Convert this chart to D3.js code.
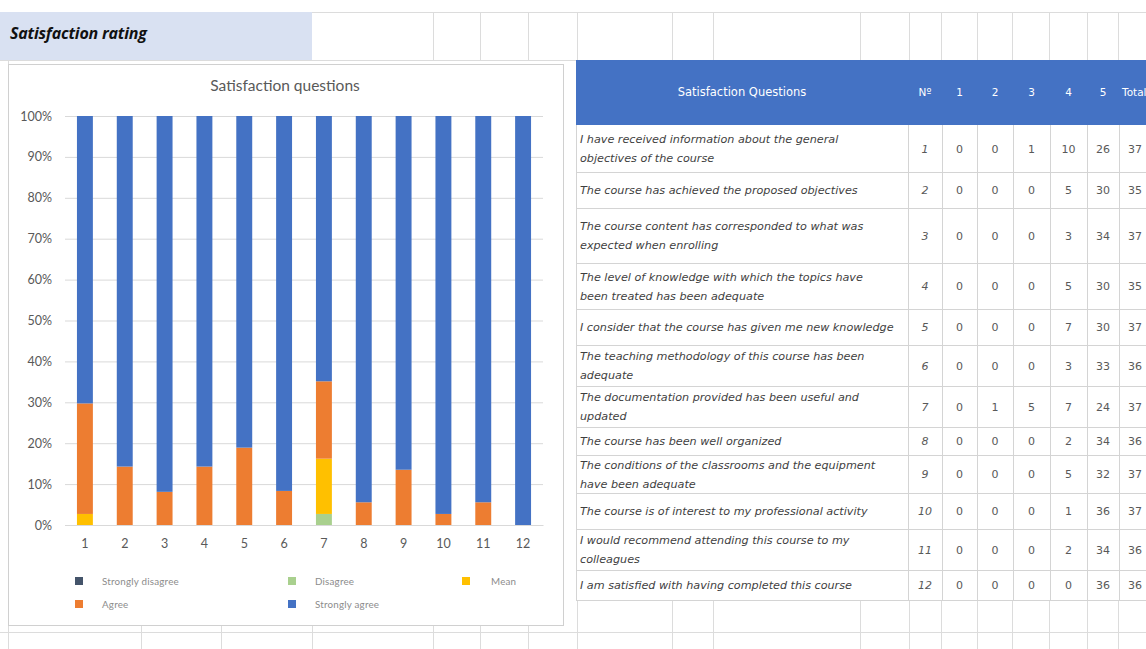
<!DOCTYPE html>
<html>
<head>
<meta charset="utf-8">
<script src="https://cdn.jsdelivr.net/npm/d3@7"></script>
<style>
  html, body { margin: 0; padding: 0; background: #fff; }
  svg { display: block; }
</style>
</head>
<body>
<svg id="chart" width="1146" height="649"></svg>
<script>
// ---------------- DATA ----------------
const questionNumbers = [1, 2, 3, 4, 5, 6, 7, 8, 9, 10, 11, 12];
const questionTexts = [
  ["I have received information about the general", "objectives of the course"],
  ["The course has achieved the proposed objectives"],
  ["The course content has corresponded to what was", "expected when enrolling"],
  ["The level of knowledge with which the topics have", "been treated has been adequate"],
  ["I consider that the course has given me new knowledge"],
  ["The teaching methodology of this course has been", "adequate"],
  ["The documentation provided has been useful and", "updated"],
  ["The course has been well organized"],
  ["The conditions of the classrooms and the equipment", "have been adequate"],
  ["The course is of interest to my professional activity"],
  ["I would recommend attending this course to my", "colleagues"],
  ["I am satisfied with having completed this course"]
];
const stronglyDisagree = [0, 0, 0, 0, 0, 0, 0, 0, 0, 0, 0, 0];
const disagree         = [0, 0, 0, 0, 0, 0, 1, 0, 0, 0, 0, 0];
const mean             = [1, 0, 0, 0, 0, 0, 5, 0, 0, 0, 0, 0];
const agree            = [10, 5, 3, 5, 7, 3, 7, 2, 5, 1, 2, 0];
const stronglyAgree    = [26, 30, 34, 30, 30, 33, 24, 34, 32, 36, 34, 36];
const totals           = [37, 35, 37, 35, 37, 36, 37, 36, 37, 37, 36, 36];
const seriesNames = ["Strongly disagree", "Disagree", "Mean", "Agree", "Strongly agree"];
const yTicks = [0, 0.1, 0.2, 0.3, 0.4, 0.5, 0.6, 0.7, 0.8, 0.9, 1.0];
const tableHeaders = ["Nº", "1", "2", "3", "4", "5", "Total"];
const sheetTitle = "Satisfaction rating";
const chartTitle = "Satisfaction questions";
const tableTitle = "Satisfaction Questions";

// ---------------- STYLE / LAYOUT ----------------
const colors = {
  "Strongly disagree": "#44546a",
  "Disagree": "#a9d08e",
  "Mean": "#ffc000",
  "Agree": "#ed7d31",
  "Strongly agree": "#4472c4"
};
const gridColor = "#d9d9d9";
const textGray = "#595959";
const chartFont = "Lato, 'Open Sans', sans-serif";
const tableFont = "'DejaVu Sans', Lato, sans-serif";

const svg = d3.select("#chart");

// ---- spreadsheet background grid ----
const sheet = svg.append("g").attr("stroke", "#dcdcdc").attr("stroke-width", 1);
const colLinesLeft = [141, 221, 312, 433, 480, 528];
const colLinesRight = [577, 672, 713, 860, 909, 941, 977, 1012, 1049, 1087, 1118];
svg.append("rect").attr("x", 0).attr("y", 12).attr("width", 312).attr("height", 48).attr("fill", "#d9e1f2");
[12.5, 60.5].forEach(y => sheet.append("line").attr("x1", 0).attr("x2", 1146).attr("y1", y).attr("y2", y));
colLinesLeft.concat(colLinesRight).forEach(x => {
  if (x > 312) sheet.append("line").attr("x1", x + 0.5).attr("x2", x + 0.5).attr("y1", 12).attr("y2", 60);
  sheet.append("line").attr("x1", x + 0.5).attr("x2", x + 0.5).attr("y1", 600).attr("y2", 649);
});
sheet.append("line").attr("x1", 8.5).attr("x2", 8.5).attr("y1", 60).attr("y2", 649);
sheet.append("line").attr("x1", 0).attr("x2", 1146).attr("y1", 632.5).attr("y2", 632.5);
sheet.append("line").attr("x1", 576).attr("x2", 1146).attr("y1", 600.5).attr("y2", 600.5);

svg.append("text").attr("x", 10).attr("y", 39)
  .attr("font-family", "'Open Sans', Lato, sans-serif").attr("font-weight", 700).attr("font-style", "italic")
  .attr("font-size", 16).attr("letter-spacing", -0.2).attr("fill", "#111").text(sheetTitle);

// ---------------- CHART ----------------
svg.append("rect").attr("x", 8.5).attr("y", 64.5).attr("width", 555).attr("height", 561)
  .attr("fill", "#fff").attr("stroke", "#d0d0d0");

svg.append("text").attr("x", 285).attr("y", 91).attr("text-anchor", "middle")
  .attr("font-family", chartFont).attr("font-size", 15.5).attr("fill", textGray).text(chartTitle);

const plotLeft = 65, plotRight = 543, plotTop = 116, plotBottom = 525;
const x = d3.scaleBand().domain(questionNumbers).range([plotLeft, plotRight])
  .paddingInner(0.6).paddingOuter(0.3);
const y = d3.scaleLinear().domain([0, 1]).range([plotBottom, plotTop]);

const rows = questionNumbers.map((q, i) => ({
  q,
  "Strongly disagree": stronglyDisagree[i],
  "Disagree": disagree[i],
  "Mean": mean[i],
  "Agree": agree[i],
  "Strongly agree": stronglyAgree[i]
}));
const stacked = d3.stack().keys(seriesNames).offset(d3.stackOffsetExpand)(rows);

const yAxis = d3.axisLeft(y).tickValues(yTicks).tickFormat(d3.format(".0%"))
  .tickSize(-(plotRight - plotLeft)).tickPadding(13);
const gy = svg.append("g").attr("transform", `translate(${plotLeft},0)`).call(yAxis);
gy.select(".domain").remove();
gy.selectAll(".tick line").attr("stroke", gridColor);
gy.selectAll(".tick text").attr("font-family", chartFont).attr("font-size", 12.5).attr("fill", textGray);

svg.append("g").selectAll("g").data(stacked).join("g")
  .attr("fill", d => colors[d.key])
  .selectAll("rect").data(d => d).join("rect")
  .attr("x", d => x(d.data.q))
  .attr("width", x.bandwidth())
  .attr("y", d => y(d[1]))
  .attr("height", d => Math.max(0, y(d[0]) - y(d[1])));

const xAxis = d3.axisBottom(x).tickSize(0).tickPadding(14);
const gx = svg.append("g").attr("transform", `translate(0,${plotBottom})`).call(xAxis);
gx.select(".domain").attr("stroke", gridColor);
gx.selectAll(".tick text").attr("font-family", chartFont).attr("font-size", 12.5).attr("fill", textGray);

const legendPos = [[75, 581], [288, 581], [462, 581], [75, 604], [288, 604]];
const legend = svg.append("g").selectAll("g").data(seriesNames).join("g")
  .attr("transform", (d, i) => `translate(${legendPos[i][0]},${legendPos[i][1]})`);
legend.append("rect").attr("x", 0).attr("y", -4).attr("width", 8).attr("height", 8)
  .attr("fill", d => colors[d]);
legend.append("text").attr("x", d => d === "Mean" ? 29 : 27).attr("y", 3.5)
  .attr("font-family", chartFont).attr("font-size", 9.8).attr("letter-spacing", 0.2)
  .attr("fill", "#8c8c8c").text(d => d);

// ---------------- TABLE ----------------
const tLeft = 576, tRight = 1146;
const colEdges = [908, 942, 977, 1013, 1050, 1087, 1119, 1151];
const rowEdges = [125, 172, 208, 263, 309, 345, 386, 427, 455, 493, 529, 570, 600];

svg.append("rect").attr("x", tLeft).attr("y", 60).attr("width", tRight - tLeft).attr("height", 65)
  .attr("fill", "#4472c4");
svg.append("text").attr("x", (tLeft + colEdges[0]) / 2).attr("y", 96).attr("text-anchor", "middle")
  .attr("font-family", tableFont).attr("font-size", 11.5).attr("fill", "#fff").text(tableTitle);
svg.append("g").selectAll("text").data(tableHeaders).join("text")
  .attr("x", (d, i) => i === 6 ? colEdges[i] + 3 : (colEdges[i] + colEdges[i + 1]) / 2)
  .attr("y", 96).attr("text-anchor", (d, i) => i === 6 ? "start" : "middle")
  .attr("font-family", tableFont).attr("font-size", 10.5).attr("fill", "#fff").text(d => d);

const tgrid = svg.append("g").attr("stroke", "#d4d4d4");
rowEdges.slice(1).forEach(yv => tgrid.append("line").attr("x1", tLeft).attr("x2", tRight).attr("y1", yv + 0.5).attr("y2", yv + 0.5));
[tLeft].concat(colEdges.slice(0, 7)).forEach(xv => tgrid.append("line").attr("x1", xv + 0.5).attr("x2", xv + 0.5).attr("y1", 125).attr("y2", 600));

const tableRows = questionNumbers.map((q, i) => ({
  i, q, text: questionTexts[i],
  vals: [q, stronglyDisagree[i], disagree[i], mean[i], agree[i], stronglyAgree[i], totals[i]]
}));
const tr = svg.append("g").selectAll("g").data(tableRows).join("g");
tr.each(function(d) {
  const g = d3.select(this);
  const mid = (rowEdges[d.i] + rowEdges[d.i + 1]) / 2;
  const n = d.text.length;
  d.text.forEach((line, k) => {
    g.append("text").attr("x", 580).attr("y", mid + 4 + (k - (n - 1) / 2) * 19)
      .attr("font-family", tableFont).attr("font-style", "italic").attr("font-size", 11.2)
      .attr("fill", "#3f3f3f").text(line);
  });
  d.vals.forEach((v, c) => {
    g.append("text").attr("x", (colEdges[c] + colEdges[c + 1]) / 2)
      .attr("y", mid + 4).attr("text-anchor", "middle")
      .attr("font-family", tableFont).attr("font-style", c === 0 ? "italic" : "normal")
      .attr("font-size", 11).attr("fill", textGray).text(v);
  });
});
</script>
</body>
</html>
